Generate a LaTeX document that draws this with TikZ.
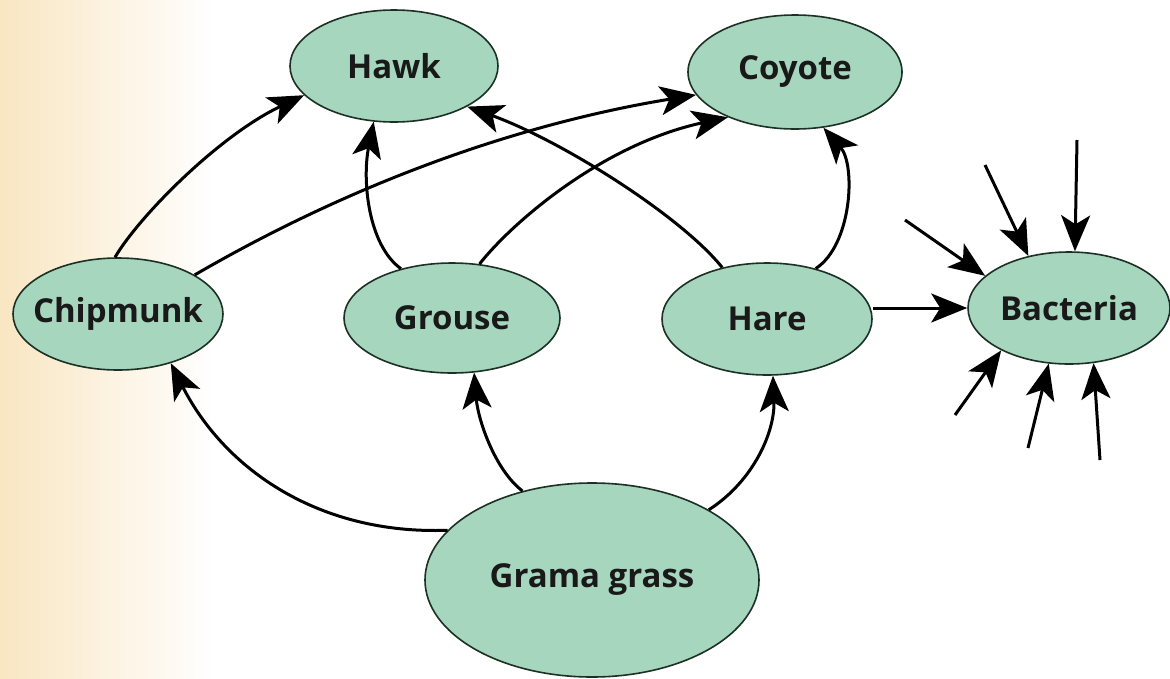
\documentclass[tikz,border=0pt]{standalone}
\usepackage{fontspec}
\setmainfont{Open Sans}
\usetikzlibrary{shapes.geometric,arrows.meta}
\definecolor{nodefill}{RGB}{166,214,190}
\definecolor{nodeline}{RGB}{28,48,38}
\definecolor{bgleft}{RGB}{249,230,194}
\begin{document}
\begin{tikzpicture}[x=1pt,y=-1pt,
  eco/.style={ellipse, draw=nodeline, line width=1.6pt, fill=nodefill, inner sep=0pt},
  lbl/.style={font=\bfseries\fontsize{33}{38}\selectfont, text=black!90},
  arr/.style={line width=3pt, draw=black, -{Stealth[length=36pt,width=29pt,inset=9pt]}}]
\useasboundingbox (0,0) rectangle (1170,678);
\fill[white] (0,0) rectangle (1170,678);
\shade[left color=bgleft, right color=white] (0,0) rectangle (215,678);

\node[eco, minimum width=208pt, minimum height=112pt, label={[lbl]center:Hawk}] (hawk) at (394,66) {};
\node[eco, minimum width=214pt, minimum height=114pt, label={[lbl]center:Coyote}] (coyote) at (795,72) {};
\node[eco, minimum width=210pt, minimum height=112pt, label={[lbl]center:Chipmunk}] (chip) at (118,314) {};
\node[eco, minimum width=216pt, minimum height=110pt, label={[lbl]center:Grouse}] (grouse) at (452,318) {};
\node[eco, minimum width=210pt, minimum height=112pt, label={[lbl]center:Hare}] (hare) at (767,319) {};
\node[eco, minimum width=202pt, minimum height=112pt, label={[lbl]center:Bacteria}] (bact) at (1069,308) {};
\node[eco, minimum width=334pt, minimum height=194pt, label={[lbl]center:Grama grass}] (grama) at (592,580) {};

% feeding links
\draw[arr] (chip.93) .. controls (140,215) and (220,135) .. (hawk.198);
\draw[arr] (chip.27) .. controls (353,183) and (518,124) .. (coyote.193);
\draw[arr] (grouse.136) .. controls (368,245) and (362,180) .. (hawk.250);
\draw[arr] (grouse.63) .. controls (510,225) and (600,145) .. (coyote.214);
\draw[arr] (hare.131) .. controls (680,215) and (560,140) .. (hawk.331);
\draw[arr] (hare.46) .. controls (852,245) and (856,165) .. (coyote.297);
\draw[arr] (hare.east |- bact.west) -- (bact.west);
\draw[arr] (grama.161) .. controls (320,535) and (225,470) .. (chip.317);
\draw[arr] (grama.128) .. controls (495,470) and (478,420) .. (grouse.292);
\draw[arr] (grama.31) .. controls (755,480) and (775,430) .. (hare.276);

% decomposers
\coordinate (b1) at (905,220);
\coordinate (b2) at (985,165);
\coordinate (b3) at (1077,140);
\coordinate (b4) at (955,415);
\coordinate (b5) at (1028,448);
\coordinate (b6) at (1100,460);
\draw[arr] (b1) -- (bact.159);
\draw[arr] (b2) -- (bact.128);
\draw[arr] (b3) -- (bact.84);
\draw[arr] (b4) -- (bact.212);
\draw[arr] (b5) -- (bact.250);
\draw[arr] (b6) -- (bact.294);
\end{tikzpicture}
\end{document}
